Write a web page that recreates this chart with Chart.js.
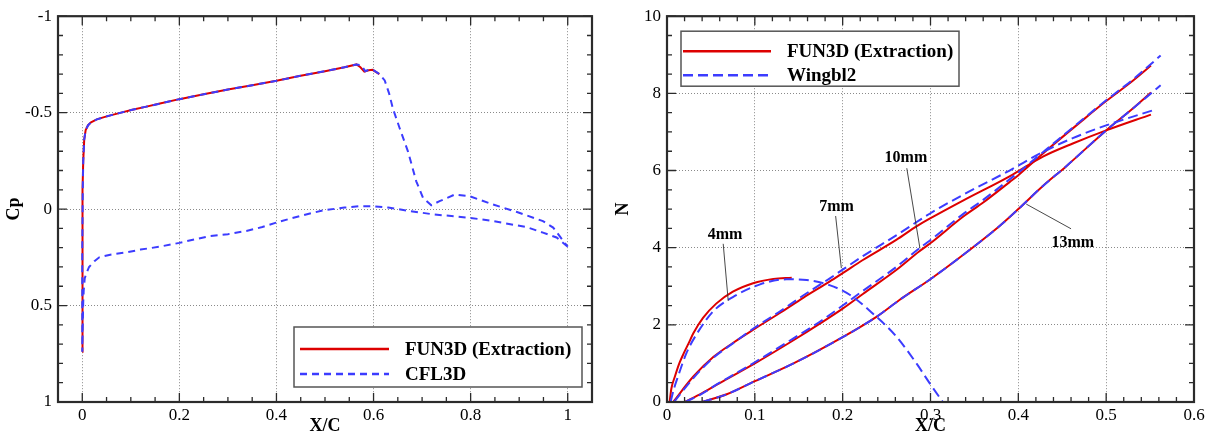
<!DOCTYPE html>
<html>
<head>
<meta charset="utf-8">
<script src="https://cdn.jsdelivr.net/npm/chart.js@4.4.1/dist/chart.umd.min.js"></script>
<style>
  html, body { margin: 0; padding: 0; background: #fff; }
  #wrap { position: relative; width: 1211px; height: 437px; }
  canvas { position: absolute; top: 0; }
  #cpChart { left: 0; }
  #nChart { left: 605px; }
</style>
</head>
<body>
<div id="wrap">
  <canvas id="cpChart" width="605" height="437"></canvas>
  <canvas id="nChart" width="606" height="437"></canvas>
</div>
<script>
// ---- left panel: pressure coefficient ----
const fun3dX  = [0, 0, 0.001, 0.002, 0.004, 0.007, 0.012, 0.018, 0.03, 0.045, 0.06, 0.08, 0.103, 0.13, 0.16, 0.2, 0.25, 0.3, 0.35, 0.4, 0.447, 0.5, 0.54, 0.565, 0.573, 0.581, 0.59, 0.598, 0.612];
const fun3dCp = [0.74, 0.2, -0.1, -0.25, -0.36, -0.41, -0.435, -0.45, -0.465, -0.477, -0.487, -0.5, -0.515, -0.53, -0.547, -0.57, -0.595, -0.62, -0.642, -0.665, -0.69, -0.715, -0.735, -0.75, -0.735, -0.713, -0.72, -0.722, -0.7];

// CFL3D upper surface, leading edge -> trailing edge
const cfl3dUpperX  = [0, 0, 0.001, 0.002, 0.004, 0.007, 0.012, 0.018, 0.03, 0.045, 0.06, 0.08, 0.103, 0.13, 0.16, 0.2, 0.25, 0.3, 0.35, 0.4, 0.447, 0.5, 0.54, 0.565, 0.575, 0.583, 0.59, 0.6, 0.612, 0.623, 0.632, 0.64, 0.654, 0.671, 0.688, 0.702, 0.719, 0.736, 0.767, 0.798, 0.846, 0.894, 0.949, 0.97, 0.983, 1.0];
const cfl3dUpperCp = [0.74, 0.2, -0.1, -0.25, -0.36, -0.41, -0.435, -0.45, -0.465, -0.477, -0.487, -0.5, -0.515, -0.53, -0.547, -0.57, -0.595, -0.62, -0.642, -0.665, -0.69, -0.715, -0.735, -0.75, -0.745, -0.715, -0.722, -0.72, -0.7, -0.667, -0.6, -0.52, -0.418, -0.298, -0.144, -0.058, -0.02, -0.041, -0.075, -0.067, -0.024, 0.014, 0.062, 0.096, 0.139, 0.195];
// CFL3D lower surface, leading edge -> trailing edge
const cfl3dLowerX  = [0, 0.001, 0.002, 0.003, 0.005, 0.008, 0.014, 0.025, 0.035, 0.06, 0.09, 0.12, 0.159, 0.2, 0.262, 0.3, 0.338, 0.371, 0.406, 0.45, 0.495, 0.54, 0.571, 0.598, 0.63, 0.667, 0.722, 0.798, 0.846, 0.915, 0.949, 0.977, 1.0];
const cfl3dLowerCp = [0.74, 0.6, 0.48, 0.42, 0.36, 0.335, 0.3, 0.27, 0.25, 0.235, 0.225, 0.21, 0.195, 0.175, 0.14, 0.13, 0.113, 0.093, 0.065, 0.035, 0.007, -0.008, -0.015, -0.015, -0.008, 0.007, 0.027, 0.045, 0.062, 0.093, 0.122, 0.147, 0.195];

const cpTicksX = [0, 0.2, 0.4, 0.6, 0.8, 1];
const cpTicksY = [-1, -0.5, 0, 0.5, 1];

// ---- right panel: N factor per station ----
const stations = ['4mm', '7mm', '10mm', '13mm'];

const fun3d4X = [0.003, 0.005, 0.009, 0.014, 0.019, 0.025, 0.03, 0.041, 0.056, 0.075, 0.098, 0.121, 0.142];
const fun3d4N = [0, 0.35, 0.66, 1.0, 1.26, 1.54, 1.78, 2.18, 2.55, 2.86, 3.08, 3.19, 3.22];
const wing4X  = [0.004, 0.008, 0.0125, 0.022, 0.034, 0.053, 0.075, 0.106, 0.136, 0.159, 0.185, 0.208, 0.234, 0.261, 0.284, 0.299, 0.314];
const wing4N  = [0, 0.35, 0.66, 1.26, 1.77, 2.36, 2.72, 3.05, 3.18, 3.16, 3.03, 2.78, 2.3, 1.7, 1.0, 0.49, 0];

const fun3d7X = [0.007, 0.03, 0.053, 0.075, 0.1, 0.128, 0.155, 0.185, 0.2, 0.223, 0.261, 0.284, 0.299, 0.337, 0.39, 0.428, 0.462, 0.5, 0.551];
const fun3d7N = [0, 0.66, 1.17, 1.53, 1.9, 2.3, 2.7, 3.12, 3.34, 3.68, 4.2, 4.55, 4.75, 5.22, 5.85, 6.36, 6.7, 7.04, 7.45];
const wing7X  = [0.008, 0.03, 0.053, 0.075, 0.1, 0.128, 0.155, 0.185, 0.2, 0.223, 0.261, 0.299, 0.337, 0.39, 0.428, 0.462, 0.5, 0.556];
const wing7N  = [0, 0.62, 1.15, 1.52, 1.93, 2.34, 2.76, 3.2, 3.43, 3.78, 4.32, 4.88, 5.37, 6.0, 6.48, 6.84, 7.17, 7.58];

const fun3d10X = [0.02, 0.04, 0.06, 0.1, 0.144, 0.174, 0.2, 0.223, 0.261, 0.287, 0.299, 0.337, 0.36, 0.39, 0.4, 0.431, 0.473, 0.5, 0.53, 0.551];
const fun3d10N = [0, 0.23, 0.49, 1.0, 1.6, 2.03, 2.42, 2.8, 3.42, 3.9, 4.1, 4.8, 5.17, 5.7, 5.88, 6.5, 7.3, 7.8, 8.32, 8.72];
const wing10X  = [0.021, 0.04, 0.06, 0.1, 0.144, 0.174, 0.2, 0.223, 0.261, 0.287, 0.299, 0.337, 0.36, 0.39, 0.4, 0.431, 0.473, 0.5, 0.53, 0.562];
const wing10N  = [0, 0.22, 0.5, 1.03, 1.65, 2.08, 2.5, 2.88, 3.5, 3.98, 4.18, 4.87, 5.24, 5.77, 5.95, 6.53, 7.32, 7.82, 8.35, 8.98];

const fun3d13X = [0.04, 0.068, 0.1, 0.144, 0.2, 0.238, 0.265, 0.299, 0.337, 0.378, 0.4, 0.428, 0.454, 0.5, 0.53, 0.551];
const fun3d13N = [0, 0.2, 0.54, 1.0, 1.68, 2.2, 2.65, 3.17, 3.81, 4.55, 5.0, 5.6, 6.1, 7.04, 7.6, 8.02];
const wing13X  = [0.04, 0.068, 0.1, 0.144, 0.2, 0.238, 0.265, 0.299, 0.337, 0.378, 0.4, 0.428, 0.454, 0.5, 0.53, 0.562];
const wing13N  = [0, 0.2, 0.54, 1.0, 1.68, 2.2, 2.65, 3.17, 3.81, 4.55, 5.0, 5.6, 6.1, 7.04, 7.6, 8.21];

const nTicksX = [0, 0.1, 0.2, 0.3, 0.4, 0.5, 0.6];
const nTicksY = [0, 2, 4, 6, 8, 10];

const RED = '#dd0000';
const BLUE = '#3c3cff';
const SERIF = "'Liberation Serif', 'Times New Roman', serif";

Chart.defaults.font.family = SERIF;
Chart.defaults.color = '#000';

const pts = (xs, ys) => xs.map((x, i) => ({ x: x, y: ys[i] }));

// frame plus inward major/minor ticks on all four sides
const frameTicks = {
    id: 'frameTicks',
    afterDraw(chart, args, opts) {
        const { ctx, chartArea: a } = chart;
        const marks = (scale, step, majors) => {
            const out = [];
            const k0 = Math.ceil(scale.min / step - 1e-6);
            const k1 = Math.floor(scale.max / step + 1e-6);
            for (let k = k0; k <= k1; k++) {
                const v = k * step;
                out.push({ p: scale.getPixelForValue(v), major: majors.some(m => Math.abs(m - v) < 1e-6) });
            }
            return out;
        };
        ctx.save();
        ctx.strokeStyle = '#2b2b2b';
        ctx.lineWidth = 1.3;
        ctx.beginPath();
        marks(chart.scales.x, opts.xMinor, opts.xMajor).forEach(t => {
            const len = t.major ? 9 : 5;
            ctx.moveTo(t.p, a.bottom); ctx.lineTo(t.p, a.bottom - len);
            ctx.moveTo(t.p, a.top); ctx.lineTo(t.p, a.top + len);
        });
        marks(chart.scales.y, opts.yMinor, opts.yMajor).forEach(t => {
            const len = t.major ? 9 : 5;
            ctx.moveTo(a.left, t.p); ctx.lineTo(a.left + len, t.p);
            ctx.moveTo(a.right, t.p); ctx.lineTo(a.right - len, t.p);
        });
        ctx.stroke();
        ctx.lineWidth = 2.2;
        ctx.strokeRect(a.left, a.top, a.right - a.left, a.bottom - a.top);
        ctx.restore();
    }
};

// boxed legend inside the plot area
const boxLegend = {
    id: 'boxLegend',
    afterDraw(chart, args, opts) {
        const { ctx, chartArea: a } = chart;
        const left = opts.anchor === 'bottom-right' ? a.right - opts.dx - opts.width : a.left + opts.dx;
        const top = opts.anchor === 'bottom-right' ? a.bottom - opts.dy - opts.height : a.top + opts.dy;
        ctx.save();
        ctx.fillStyle = '#fff';
        ctx.fillRect(left, top, opts.width, opts.height);
        ctx.strokeStyle = '#555';
        ctx.lineWidth = 1.5;
        ctx.strokeRect(left, top, opts.width, opts.height);
        opts.items.forEach((idx, i) => {
            const ds = chart.data.datasets[idx];
            const y = top + opts.rows[i];
            ctx.beginPath();
            ctx.strokeStyle = ds.borderColor;
            ctx.lineWidth = 2.5;
            ctx.setLineDash(ds.borderDash || []);
            ctx.moveTo(left + opts.lineFrom, y);
            ctx.lineTo(left + opts.lineTo, y);
            ctx.stroke();
            ctx.setLineDash([]);
            ctx.fillStyle = '#000';
            ctx.font = 'bold 19px ' + SERIF;
            ctx.textBaseline = 'middle';
            ctx.fillText(ds.label, left + opts.textX, y + 1);
        });
        ctx.restore();
    }
};

// station labels with leader lines, placed in data units
const stationNotes = {
    id: 'stationNotes',
    afterDatasetsDraw(chart, args, opts) {
        const { ctx } = chart;
        const xs = chart.scales.x, ys = chart.scales.y;
        ctx.save();
        opts.notes.forEach(n => {
            ctx.beginPath();
            ctx.strokeStyle = '#333';
            ctx.lineWidth = 0.9;
            ctx.moveTo(xs.getPixelForValue(n.from[0]), ys.getPixelForValue(n.from[1]));
            ctx.lineTo(xs.getPixelForValue(n.to[0]), ys.getPixelForValue(n.to[1]));
            ctx.stroke();
            ctx.fillStyle = '#000';
            ctx.font = 'bold 16px ' + SERIF;
            ctx.textAlign = 'center';
            ctx.textBaseline = 'middle';
            ctx.fillText(n.text, xs.getPixelForValue(n.at[0]), ys.getPixelForValue(n.at[1]));
        });
        ctx.restore();
    }
};

function axis(min, max, ticks, yWidth, title, titlePad, isY, reverse) {
    return {
        type: 'linear',
        min: min,
        max: max,
        reverse: !!reverse,
        afterBuildTicks: s => { s.ticks = ticks.map(v => ({ value: v })); },
        afterFit: s => { if (isY) s.width = yWidth; else s.height = 35; },
        ticks: {
            color: '#000',
            font: { size: 17 },
            padding: isY ? 6 : 3,
            maxRotation: 0,
            autoSkip: false,
            callback: v => String(v)
        },
        grid: { color: '#8a8a8a', lineWidth: 1, drawTicks: false },
        border: { display: false, dash: [1, 2] },
        title: {
            display: true,
            text: title,
            color: '#000',
            font: { size: 18, weight: 'bold' },
            padding: isY ? { top: titlePad, bottom: 0 } : { top: 0, bottom: titlePad }
        }
    };
}

// ---- left chart ----
const cfl3dLoop = pts(cfl3dLowerX, cfl3dLowerCp).reverse().concat(pts(cfl3dUpperX, cfl3dUpperCp).slice(1));

new Chart(document.getElementById('cpChart'), {
    type: 'scatter',
    data: {
        datasets: [{
            label: 'FUN3D (Extraction)',
            data: pts(fun3dX, fun3dCp),
            showLine: true,
            borderColor: RED,
            borderWidth: 2,
            pointRadius: 0,
            tension: 0,
            order: 2
        }, {
            label: 'CFL3D',
            data: cfl3dLoop,
            showLine: true,
            borderColor: BLUE,
            borderWidth: 2,
            borderDash: [7, 5],
            pointRadius: 0,
            tension: 0,
            order: 1
        }]
    },
    options: {
        responsive: false,
        animation: false,
        devicePixelRatio: 1,
        layout: { padding: { top: 13, right: 13, left: 0, bottom: 0 } },
        plugins: {
            legend: { display: false },
            tooltip: { enabled: false },
            frameTicks: { xMinor: 0.05, xMajor: cpTicksX, yMinor: 0.1, yMajor: cpTicksY },
            boxLegend: {
                anchor: 'bottom-right', dx: 10, dy: 15, width: 288, height: 60,
                rows: [22, 47], lineFrom: 6, lineTo: 95, textX: 111, items: [0, 1]
            }
        },
        scales: {
            x: axis(-0.05, 1.05, cpTicksX, 0, 'X/C', 0, false),
            y: axis(-1, 1, cpTicksY, 58, 'Cp', 4, true, true)
        }
    },
    plugins: [frameTicks, boxLegend]
});

// ---- right chart ----
const fun3dSets = [[fun3d4X, fun3d4N], [fun3d7X, fun3d7N], [fun3d10X, fun3d10N], [fun3d13X, fun3d13N]];
const wingSets = [[wing4X, wing4N], [wing7X, wing7N], [wing10X, wing10N], [wing13X, wing13N]];

const nDatasets = fun3dSets.map((s, i) => ({
    label: 'FUN3D (Extraction)',
    station: stations[i],
    data: pts(s[0], s[1]),
    showLine: true,
    borderColor: RED,
    borderWidth: 2,
    pointRadius: 0,
    cubicInterpolationMode: 'monotone',
    order: 2
})).concat(wingSets.map((s, i) => ({
    label: 'Wingbl2',
    station: stations[i],
    data: pts(s[0], s[1]),
    showLine: true,
    borderColor: BLUE,
    borderWidth: 2,
    borderDash: [10, 5],
    pointRadius: 0,
    cubicInterpolationMode: 'monotone',
    order: 1
})));

new Chart(document.getElementById('nChart'), {
    type: 'scatter',
    data: { datasets: nDatasets },
    options: {
        responsive: false,
        animation: false,
        devicePixelRatio: 1,
        layout: { padding: { top: 13, right: 17, left: 0, bottom: 0 } },
        plugins: {
            legend: { display: false },
            tooltip: { enabled: false },
            frameTicks: { xMinor: 0.02, xMajor: nTicksX, yMinor: 0.5, yMajor: nTicksY },
            boxLegend: {
                anchor: 'top-left', dx: 14, dy: 15, width: 278, height: 55,
                rows: [20, 44], lineFrom: 2, lineTo: 90, textX: 106, items: [0, 4]
            },
            stationNotes: {
                notes: [
                    { text: stations[0], at: [0.066, 4.32], from: [0.064, 4.1], to: [0.0697, 2.62] },
                    { text: stations[1], at: [0.193, 5.07], from: [0.192, 4.82], to: [0.1985, 3.47] },
                    { text: stations[2], at: [0.272, 6.32], from: [0.273, 6.06], to: [0.288, 3.98] },
                    { text: stations[3], at: [0.462, 4.13], from: [0.46, 4.49], to: [0.409, 5.13] }
                ]
            }
        },
        scales: {
            x: axis(0, 0.6, nTicksX, 0, 'X/C', 0, false),
            y: axis(0, 10, nTicksY, 62, 'N', 8, true)
        }
    },
    plugins: [frameTicks, boxLegend, stationNotes]
});
</script>
</body>
</html>
